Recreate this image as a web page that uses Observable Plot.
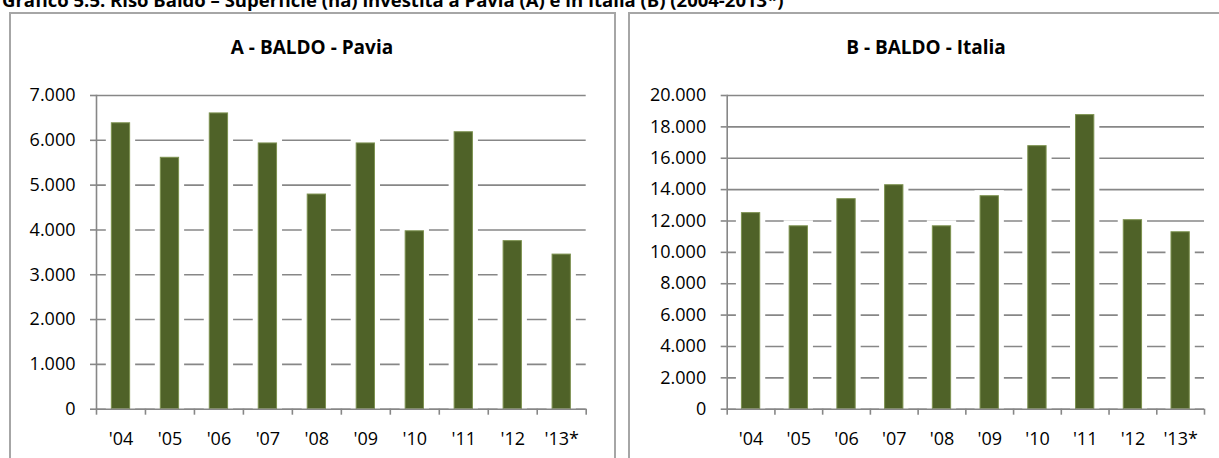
<!DOCTYPE html>
<html><head><meta charset="utf-8">
<script src="https://cdn.jsdelivr.net/npm/d3@7"></script>
<script src="https://cdn.jsdelivr.net/npm/@observablehq/plot@0.6"></script>
<style>
body{margin:0;width:1219px;height:458px;overflow:hidden;background:#fff;position:relative;font-family:"Open Sans",sans-serif;}
.abs{position:absolute;}
.title{left:2px;top:-9px;font-weight:700;font-size:18.5px;line-height:18.5px;white-space:nowrap;color:#000;}
.panel{border:2px solid #a6a6a6;top:12px;height:470px;box-sizing:border-box;}
.ptitle{font-weight:700;font-size:19px;line-height:19px;white-space:nowrap;text-align:center;width:400px;top:38px;color:#000;}
</style></head><body>
<div class="abs title">Grafico 5.5: Riso Baldo – Superficie (ha) investita a Pavia (A) e in Italia (B) (2004-2013*)</div>
<div class="abs panel" style="left:9px;width:607px;"></div>
<div class="abs panel" style="left:628px;width:700px;"></div>
<div class="abs" id="cA" style="left:0;top:0;"></div>
<div class="abs" id="cB" style="left:600px;top:0;"></div>
<div class="abs ptitle" style="left:112px;">A - BALDO - Pavia</div>
<div class="abs ptitle" style="left:726px;">B - BALDO - Italia</div>
<script>
const years = ["'04","'05","'06","'07","'08","'09","'10","'11","'12","'13*"];
const pavia = [6380, 5610, 6600, 5930, 4790, 5930, 3970, 6180, 3750, 3450];
const italia = [12500, 11660, 13390, 14280, 11660, 13580, 16770, 18750, 12050, 11280];
const paviaTicks = [0, 1000, 2000, 3000, 4000, 5000, 6000, 7000];
const italiaTicks = [0, 2000, 4000, 6000, 8000, 10000, 12000, 14000, 16000, 18000, 20000];

const itFmt = d3.formatLocale({decimal: ",", thousands: ".", grouping: [3], currency: ["", "€"]}).format(",d");
const GRID = "#878787";
const BAR = "#4F6228";

function chart(id, values, ticks, width, marginLeft, marginRight) {
  const data = years.map((y, i) => ({year: y, i, value: values[i]}));
  const n = years.length;
  const step = (width - marginLeft - marginRight) / n;
  const barW = 18.3;
  const inset = (step - barW) / 2;
  const node = Plot.plot({
    width, height: 458,
    marginLeft, marginRight, marginTop: 95, marginBottom: 49.3,
    style: {fontFamily: "Open Sans", fontSize: "18px", color: "#000", background: "transparent", overflow: "visible"},
    x: {type: "linear", domain: [0, n], axis: null, label: null},
    y: {domain: [0, ticks[ticks.length - 1]], axis: null, label: null},
    marks: [
      Plot.gridY(ticks, {stroke: GRID, strokeOpacity: 1, strokeWidth: 1.6}),
      Plot.rectY(data, {x1: "i", x2: d => d.i + 1, y: "value", insetLeft: inset, insetRight: inset,
        fill: "#fff", stroke: "#fff", strokeWidth: 11, ariaLabel: "halo"}),
      Plot.rectY(data, {x1: "i", x2: d => d.i + 1, y: "value", insetLeft: inset, insetRight: inset,
        fill: BAR, stroke: "#7d9250", strokeWidth: 1, ariaLabel: "bars"}),
      Plot.frame({anchor: "left", stroke: GRID, strokeWidth: 1.6}),
      Plot.ruleY([0], {stroke: GRID, strokeWidth: 1.6}),
      Plot.axisY(ticks, {tickSize: 6, tickPadding: 15, tickFormat: itFmt, stroke: GRID, strokeWidth: 1.6, fill: "#000", label: null}),
      Plot.axisX(d3.range(n + 1), {tickSize: 6, tickFormat: () => "", stroke: GRID, strokeWidth: 1.6, label: null}),
      Plot.axisX(data.map(d => d.i + 0.5), {tickSize: 0, tickPadding: 23, tickFormat: v => years[Math.floor(v)], fill: "#000", label: null})
    ]
  });
  const svg = d3.select(node);
  const defs = svg.insert("defs", ":first-child");
  defs.append("filter").attr("id", id + "halo").attr("x", "-50%").attr("y", "-10%").attr("width", "200%").attr("height", "120%")
    .append("feGaussianBlur").attr("stdDeviation", 1.6);
  const sh = defs.append("filter").attr("id", id + "sh").attr("x", "-50%").attr("y", "-10%").attr("width", "200%").attr("height", "130%");
  sh.append("feDropShadow").attr("dx", 0).attr("dy", 3).attr("stdDeviation", 2.2).attr("flood-color", "#000").attr("flood-opacity", 0.35);
  svg.select('g[aria-label="halo"]').attr("filter", `url(#${id}halo)`);
  svg.select('g[aria-label="bars"]').attr("filter", `url(#${id}sh)`);
  document.getElementById(id).appendChild(node);
}

chart("cA", pavia, paviaTicks, 615, 96, 29.3);
chart("cB", italia, italiaTicks, 619, 126.7, 15);
</script>
</body></html>
